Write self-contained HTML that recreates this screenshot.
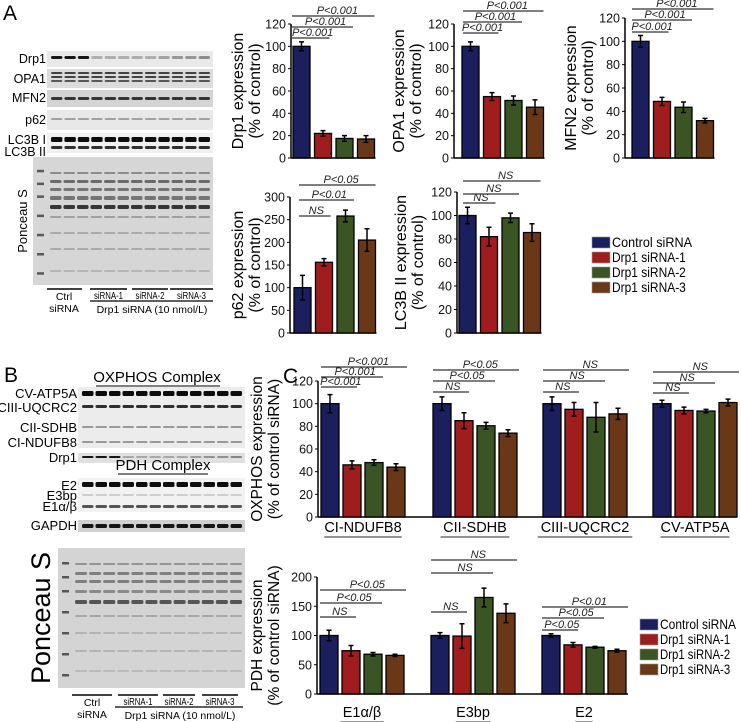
<!DOCTYPE html>
<html><head><meta charset="utf-8"><style>
html,body{margin:0;padding:0;background:#fff;}
svg{display:block;font-family:"Liberation Sans",Arial,sans-serif;}
</style></head><body>
<svg id="fig" width="741" height="722" viewBox="0 0 741 722" xmlns="http://www.w3.org/2000/svg">
<g id="blots"></g>
<g id="charts"></g>
</svg>
<script>
// ---------- DATA ----------
const groups = ["Control siRNA","Drp1 siRNA-1","Drp1 siRNA-2","Drp1 siRNA-3"];
const colors = ["#1b1f5e","#a01d1d","#3b5423","#6b3817"];
const drp1Vals = [100,22,17.5,17];
const drp1Err = [4,2.5,2.5,3];
const opa1Vals = [100,55,51.5,45.5];
const opa1Err = [4,3.5,4,6.5];
const mfn2Vals = [100,48.5,43.5,32];
const mfn2Err = [5,3.5,4.5,2];
const p62Vals = [100,156,258,205];
const p62Err = [27,8,13,25];
const lc3Vals = [100,82,98,85.5];
const lc3Err = [7,8,4,7.5];
const oxCats = ["CI-NDUFB8","CII-SDHB","CIII-UQCRC2","CV-ATP5A"];
const oxVals = [[100,46,48,44],[100,85,80.5,74],[100,95,88,91],[100,94,93.5,101]];
const oxErr = [[8,3.5,2.5,3],[6,7,3,3],[6,6,13,5],[3,3,1.5,3]];
const oxSig = [["P<0.001","P<0.001","P<0.001"],["NS","P<0.05","P<0.05"],["NS","NS","NS"],["NS","NS","NS"]];
const pdhCats = ["E1\u03b1/\u03b2","E3bp","E2"];
const pdhVals = [[100,74,68,66],[100,99,165,138],[100,84,80,74]];
const pdhErr = [[9,9,3,2],[5,21,16,16],[3,4,1.5,2.5]];
const pdhSig = [["NS","P<0.05","P<0.05"],["NS","NS","NS"],["P<0.05","P<0.05","P<0.01"]];
const ticks120 = [0,20,40,60,80,100,120];
const ticks300 = [0,50,100,150,200,250,300];
const ticks200 = [0,50,100,150,200];

const NS = "http://www.w3.org/2000/svg";
function el(parent, tag, attrs, text){
  const e = document.createElementNS(NS, tag);
  for (const k in attrs) e.setAttribute(k, attrs[k]);
  if (text !== undefined) e.textContent = text;
  parent.appendChild(e);
  return e;
}
const charts = document.getElementById('charts');
const blots = document.getElementById('blots');

function yScale(v, y0, y1, max){ return y0 - (v/max)*(y0-y1); }

function drawAxes(g, ax, y0, y1, xEnd, ticks, max, ylab1, ylab2, labX, fs){
  const a = el(g,'line',{x1:ax,y1:y0,x2:ax,y2:y1,stroke:'#000','stroke-width':1.5});
  
  
  const b = el(g,'line',{x1:ax,y1:y0,x2:xEnd,y2:y0,stroke:'#000','stroke-width':1.5});
  
  
  ticks.forEach(t=>{
    const y = yScale(t,y0,y1,max);
    el(g,'line',{x1:ax-3,y1:y,x2:ax,y2:y,stroke:'#000','stroke-width':1});
    const tl = el(g,'text',{x:ax-5,y:y+4.5,'font-size':12.5,'text-anchor':'end',fill:'#111'},String(t));
    
    
  });
  const cy = (y0+y1)/2;
  const t1 = el(g,'text',{x:labX,y:cy,'font-size':fs,'text-anchor':'middle',transform:`rotate(-90 ${labX} ${cy})`},ylab1);
  
  
  const t2 = el(g,'text',{x:labX+17,y:cy,'font-size':fs,'text-anchor':'middle',transform:`rotate(-90 ${labX+17} ${cy})`},ylab2);
  
  
}

function drawBars(g, xs, w, vals, errs, y0, y1, max){
  vals.forEach((v,i)=>{
    const y = yScale(v,y0,y1,max);
    const r = el(g,'rect',{x:xs[i],y:y,width:w,height:y0-y,fill:colors[i],stroke:'#000','stroke-width':1.3});
    
    
    const cx = xs[i]+w/2;
    const e1 = yScale(v+errs[i],y0,y1,max), e2 = yScale(v-errs[i],y0,y1,max);
    const eb = el(g,'path',{d:`M${cx},${e1}V${e2}M${cx-2.5},${e1}H${cx+2.5}M${cx-2.5},${e2}H${cx+2.5}`,stroke:'#000','stroke-width':1.5,fill:'none'});
    
    
  });
}

function drawSig(g, x1, x2, y, label){
  const l = el(g,'line',{x1:x1,y1:y,x2:x2,y2:y,stroke:'#333','stroke-width':1.2});
  
  
  const t = el(g,'text',{x:(x1+x2)/2 + (x2-x1)*0.05,y:y-2,'font-size':11,'font-style':'italic','text-anchor':'middle',fill:'#222'},label);
  
  
}

function smallChart(ax, y0, y1, max, ticks, barX0, vals, errs, l1, sigYs, sigLabels, sigX1, labX){
  const g = el(charts,'g',{});
  
  
  const pitch = 21.5, w = 17;
  const xs = vals.map((_,i)=>barX0+i*pitch);
  drawAxes(g, ax, y0, y1, xs[3]+w+1, ticks, max, l1, "(% of control)", labX, 16);
  drawBars(g, xs, w, vals, errs, y0, y1, max);
  sigYs.forEach((y,k)=>{
    drawSig(g, sigX1, xs[k+1]+w-(k===0?2:0), y, sigLabels[k]);
  });
}
// Panel A charts
smallChart(291,158,24,120,ticks120,293,drp1Vals,drp1Err,"Drp1 expression",[38,27,16],["P<0.001","P<0.001","P<0.001"],292,243);
smallChart(454,158,24,120,ticks120,462,opa1Vals,opa1Err,"OPA1 expression",[33,22,11],["P<0.001","P<0.001","P<0.001"],463,404);
smallChart(625,158,18,120,ticks120,632,mfn2Vals,mfn2Err,"MFN2 expression",[32,20,9],["P<0.001","P<0.001","P<0.001"],632,576);
smallChart(290,333,197,300,ticks300,294,p62Vals,p62Err,"p62 expression",[216,200,185],["NS","P<0.01","P<0.05"],299,243);
smallChart(457,333,192,120,ticks120,459,lc3Vals,lc3Err,"LC3B II expression",[203,194,181],["NS","NS","NS"],463,406);

function legend(x, y, tl){
  const g = el(charts,'g',{});
  
  
  groups.forEach((n,i)=>{
    const yy = y + i*15;
    const r = el(g,'rect',{x:x,y:yy-5,width:18,height:11,fill:colors[i],stroke:'#999','stroke-width':0.6});
    
    
    const t = el(g,'text',{x:x+20,y:yy+5,'font-size':14,textLength:tl*n.length/13,lengthAdjust:'spacingAndGlyphs'},n);
    
    
  });
}
legend(592,242,80);

function groupChart(name, ax, y0, y1, max, ticks, gx, cats, vals, errs, sig, sigYs, l1, l2, labX, xEnd, catY){
  const g = el(charts,'g',{});
  
  
  drawAxes(g, ax, y0, y1, xEnd, ticks, max, l1, l2, labX, 15.5);
  const pitch = 22, w = 18;
  cats.forEach((c,ci)=>{
    const xs = vals[ci].map((_,i)=>gx[ci]+i*pitch);
    drawBars(g, xs, w, vals[ci], errs[ci], y0, y1, max);
    const ends = [xs[1]+w-4, xs[2]+w, xs[3]+w+2];
    sig[ci].forEach((s,k)=>drawSig(g, gx[ci], ends[k], sigYs[ci][k], s));
    const cx = gx[ci] + 1.5*pitch + w/2;
    const t = el(g,'text',{x:cx,y:catY,'font-size':14.5,'text-anchor':'middle'},c);
    
    
    const tw = c.length*8.6;
    el(g,'line',{x1:cx-tw/2,y1:catY+5,x2:cx+tw/2,y2:catY+5,stroke:'#555','stroke-width':1.2});
  });
}
groupChart('oxphos-chart',318,517,381,120,ticks120,[321,433,543,653],oxCats,oxVals,oxErr,oxSig,
  [[387,377,367],[392,381,370],[392,381,370],[393,383,372]],"OXPHOS expression","(% of control siRNA)",262,737,532);
groupChart('pdh-chart',317,694,577,200,ticks200,[320,431,542],pdhCats,pdhVals,pdhErr,pdhSig,
  [[617,603,590],[612,573,560],[630,618,607]],"PDH expression","(% of control siRNA)",262,628,717);
legend(640,624,76);

// Panel letters
[["A",3,20],["B",4,382],["C",283,383]].forEach(p=>{
  const t = el(charts,'text',{x:p[1],y:p[2],'font-size':21},p[0]);
  
  
});

// ---------- BLOTS ----------
function strip(x, y, w, h, bg, bands, lanes, markerLane){
  const g = el(blots,'g',{});
  
  
  el(g,'rect',{x:x,y:y,width:w,height:h,fill:bg});
  const lx0 = markerLane ? x+16 : x+3;
  const pitch = (x+w-lx0-2)/lanes;
  bands.forEach(b=>{
    for(let i=0;i<lanes;i++){
      const op = b.op[i % b.op.length];
      el(g,'rect',{x:lx0+i*pitch+1,y:b.y,width:pitch-2,height:b.h,rx:1.5,fill:'#000',opacity:op});
    }
  });
  if (markerLane){
    [0.1,0.2,0.3,0.45,0.6,0.75,0.9].forEach(f=>el(g,'rect',{x:x+4,y:y+h*f,width:7,height:2.5,fill:'#222',opacity:0.7}));
  }
  return g;
}
function labelR(x,y,t,size){
  const e = el(blots,'text',{x:x,y:y,'font-size':size||12.5,'text-anchor':'end'},t);
  
  
}
const hi = [0.9,0.9,0.9,0.25,0.25,0.25,0.25,0.25,0.3,0.35,0.35,0.4];
// Panel A
strip(47,51,166,16,'#e9e9e9',[{y:56,h:3,op:hi}],12);
strip(47,69,166,19,'#dcdcdc',[{y:72,h:2,op:[0.7]},{y:76,h:2,op:[0.7]},{y:80,h:2,op:[0.6]}],12);
strip(47,90,166,17,'#d4d4d4',[{y:97,h:3,op:[0.75]}],12);
strip(47,110,166,20,'#e8e8e8',[{y:118,h:2,op:[0.3]}],12);
strip(47,133,166,20,'#f0f0f0',[{y:137,h:5,op:[0.95]},{y:146,h:3,op:[0.8]}],12);
strip(33,157,180,128,'#d6d6d6',[{y:172,h:2,op:[0.35]},{y:180,h:3,op:[0.5]},{y:188,h:3,op:[0.45]},{y:196,h:4,op:[0.45]},{y:205,h:4,op:[0.75]},{y:216,h:2,op:[0.25]},{y:232,h:2,op:[0.2]},{y:248,h:2,op:[0.2]},{y:270,h:2,op:[0.15]}],12,true);
labelR(46,63,'Drp1');labelR(46,83,'OPA1');labelR(46,102,'MFN2');labelR(46,124,'p62');labelR(46,144,'LC3B I');labelR(46,156,'LC3B II');
const psA = el(blots,'text',{x:27,y:221,'font-size':13,'text-anchor':'middle',transform:'rotate(-90 27 221)'},'Ponceau S');

function laneLabels(y, segs, ctrlX, longX1, longX2, drpX, fs){
  segs.forEach(s=>el(blots,'line',{x1:s[0],y1:y,x2:s[1],y2:y,stroke:'#000','stroke-width':1.6}));
  el(blots,'line',{x1:longX1,y1:y+12,x2:longX2,y2:y+12,stroke:'#000','stroke-width':1.2});
  el(blots,'text',{x:ctrlX,y:y+11,'font-size':fs,'text-anchor':'middle'},'Ctrl');
  el(blots,'text',{x:ctrlX,y:y+23,'font-size':fs,'text-anchor':'middle'},'siRNA');
  ['siRNA-1','siRNA-2','siRNA-3'].forEach((t,i)=>el(blots,'text',{x:(segs[i+1][0]+segs[i+1][1])/2,y:y+10,'font-size':fs,'text-anchor':'middle',textLength:29,lengthAdjust:'spacingAndGlyphs'},t));
  el(blots,'text',{x:drpX,y:y+24,'font-size':fs,'text-anchor':'middle'},'Drp1 siRNA (10 nmol/L)');
}
laneLabels(289,[[47,82],[90,127],[132,168],[170,213]],64,90,213,152,10.5);
// Panel B
el(blots,'text',{x:157,y:382,'font-size':15,'text-anchor':'middle'},'OXPHOS Complex');
el(blots,'line',{x1:96,y1:386,x2:220,y2:386,stroke:'#000'});
strip(78,387,167,61,'#ececec',[{y:391,h:5,op:[0.95]},{y:405,h:3,op:[0.8]},{y:426,h:2,op:[0.35]},{y:441,h:2,op:[0.35]}],12);
strip(78,453,167,10,'#e0e0e0',[{y:456,h:2,op:hi}],12);
labelR(77,398,'CV-ATP5A',13);labelR(77,412,'CIII-UQCRC2',13);labelR(77,432,'CII-SDHB',13);labelR(77,447,'CI-NDUFB8',13);labelR(77,462,'Drp1',13);
el(blots,'text',{x:163,y:470,'font-size':15,'text-anchor':'middle'},'PDH Complex');
el(blots,'line',{x1:118,y1:474,x2:208,y2:474,stroke:'#000'});
strip(78,478,167,34,'#f2f2f2',[{y:482,h:5,op:[0.95]},{y:494,h:2,op:[0.15]},{y:505,h:3,op:[0.65]}],12);
strip(78,520,167,12,'#d0d0d0',[{y:524,h:4,op:[0.9]}],12);
labelR(77,490,'E2',13);labelR(77,500,'E3bp',13);labelR(77,511,'E1\u03b1/\u03b2',13);labelR(77,530,'GAPDH',13);
strip(58,548,187,140,'#d4d4d4',[{y:563,h:2,op:[0.3]},{y:572,h:3,op:[0.4]},{y:580,h:3,op:[0.4]},{y:590,h:3,op:[0.35]},{y:600,h:4,op:[0.6]},{y:615,h:2,op:[0.2]},{y:632,h:2,op:[0.15]},{y:650,h:2,op:[0.15]},{y:670,h:2,op:[0.12]}],12,true);
const psB = el(blots,'text',{x:50,y:618,'font-size':27,'text-anchor':'middle',transform:'rotate(-90 50 618)'},'Ponceau S');

laneLabels(695,[[72,112],[118,158],[163,195],[202,238]],92,115,243,180,10.5);
</script>
</body></html>
